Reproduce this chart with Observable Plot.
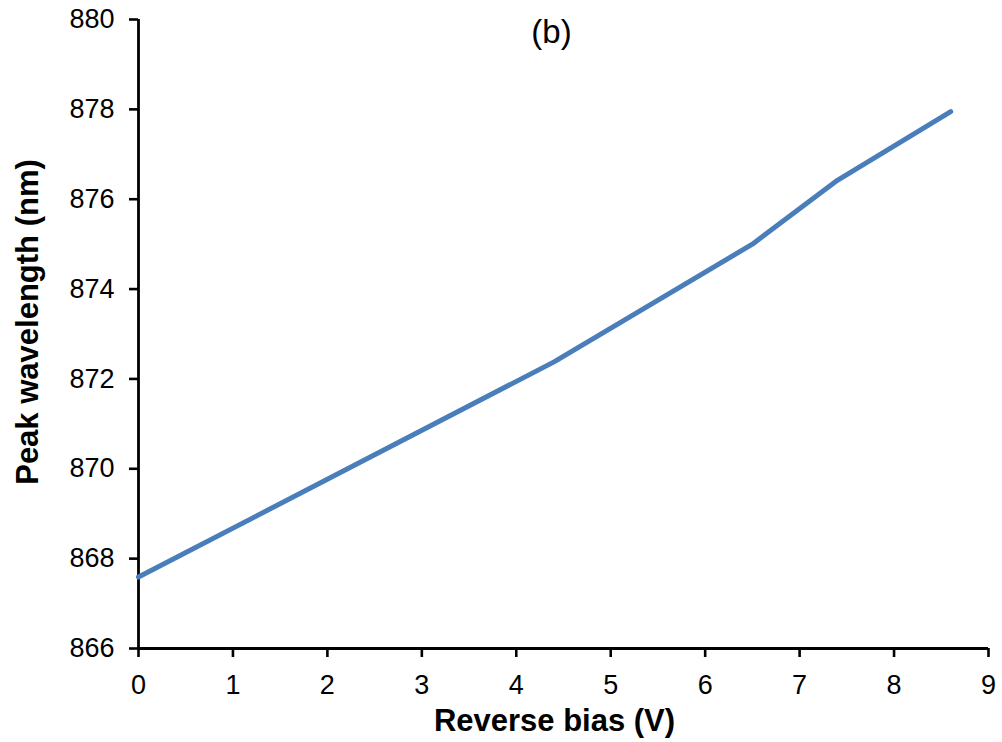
<!DOCTYPE html>
<html><head><meta charset="utf-8">
<script src="https://cdn.jsdelivr.net/npm/d3@7"></script>
<script src="https://cdn.jsdelivr.net/npm/@observablehq/plot@0.6"></script>
<style>body{margin:0;background:#fff} svg{display:block}</style>
</head><body><div id="chart"></div>
<script>
// Data
const biasV = [0, 4.4, 6.5, 7.4, 8.6];
const peakNm = [867.59, 872.38, 875.0, 876.42, 877.95];
const xTicks = [0, 1, 2, 3, 4, 5, 6, 7, 8, 9];
const yTicks = [866, 868, 870, 872, 874, 876, 878, 880];
const panelTitle = "(b)";
const xTitle = "Reverse bias (V)";
const yTitle = "Peak wavelength (nm)";

const data = biasV.map((v, i) => ({v, nm: peakNm[i]}));
const font = "'Liberation Sans', Arial, Helvetica, sans-serif";

const plot = Plot.plot({
  width: 1002, height: 742,
  marginLeft: 138, marginRight: 14, marginTop: 19, marginBottom: 94,
  style: {fontFamily: font, background: "#fff", color: "#000"},
  x: {domain: [0, 9]},
  y: {domain: [866, 880]},
  marks: [
    Plot.axisX({ticks: xTicks, tickSize: 9, tickPadding: 17, fontSize: 27, strokeWidth: 2.6, label: null}),
    Plot.axisY({ticks: yTicks, tickSize: 9, tickPadding: 15, fontSize: 27, strokeWidth: 2.6, label: null}),
    Plot.ruleX([0], {strokeWidth: 2.8}),
    Plot.ruleY([866], {strokeWidth: 2.8}),
    Plot.line(data, {x: "v", y: "nm", stroke: "#4A7EBB", strokeWidth: 5, strokeLinecap: "round", strokeLinejoin: "round"}),
    Plot.text([panelTitle], {frameAnchor: "top", dx: -12, dy: 23, lineAnchor: "bottom", fontSize: 33, fill: "#000"}),
    Plot.text([xTitle], {frameAnchor: "bottom", dx: -9, dy: 82, textAnchor: "middle", lineAnchor: "bottom", fontSize: 31, fontWeight: "bold", fill: "#000"}),
    Plot.text([yTitle], {frameAnchor: "left", dx: -101, dy: -12, rotate: -90, textAnchor: "middle", lineAnchor: "bottom", fontSize: 31, fontWeight: "bold", fill: "#000"})
  ]
});
document.getElementById("chart").appendChild(plot);
</script>
</body></html>
